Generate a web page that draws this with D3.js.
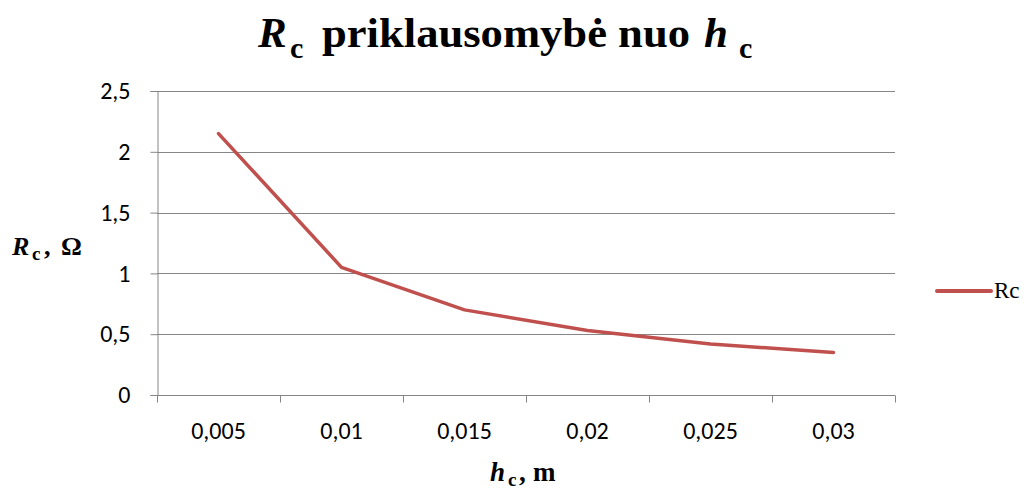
<!DOCTYPE html>
<html>
<head>
<meta charset="utf-8">
<script src="https://cdn.jsdelivr.net/npm/d3@7"></script>
<style>
  html, body { margin: 0; padding: 0; background: #fff; }
  svg { display: block; }
</style>
</head>
<body>
<svg id="chart" width="1031" height="493"></svg>
<script>
// Thickness h_c (m) and resistance R_c (Ohm)
const categories = ["0,005", "0,01", "0,015", "0,02", "0,025", "0,03"];
const rcValues = [2.15, 1.05, 0.70, 0.53, 0.42, 0.35];
const yTicks = [0, 0.5, 1, 1.5, 2, 2.5];
const yTickLabels = ["0", "0,5", "1", "1,5", "2", "2,5"];
const seriesName = "Rc";

const serifFont = '"Liberation Serif", monospace';
const tickFont = '"Carlito", monospace';

const svg = d3.select("#chart");
const margin = { left: 157, right: 136, top: 91, bottom: 98 };
const W = 1031, H = 493;
const x0 = margin.left, x1 = W - margin.right;
const y0 = H - margin.bottom, y1 = margin.top;

const x = d3.scaleBand().domain(categories).range([x0, x1]);
const y = d3.scaleLinear().domain([0, 2.5]).range([y0, y1]);

const gridColor = "#868686";
const lineColor = "#C0504D";

// horizontal gridlines
svg.append("g").selectAll("line")
  .data(yTicks.filter(d => d > 0))
  .join("line")
  .attr("x1", x0).attr("x2", x1)
  .attr("y1", d => Math.round(y(d)) + 0.5).attr("y2", d => Math.round(y(d)) + 0.5)
  .attr("stroke", gridColor).attr("stroke-width", 1);

// y axis
const yAxis = d3.axisLeft(y).tickValues(yTicks)
  .tickFormat((d, i) => yTickLabels[i]).tickSize(7).tickPadding(20);
const gy = svg.append("g").attr("transform", `translate(${x0 + 0.5},0)`).call(yAxis);
gy.attr("font-family", tickFont).attr("font-size", 24);
gy.select(".domain").attr("stroke", gridColor);
gy.selectAll(".tick line").attr("stroke", gridColor);
gy.selectAll(".tick text").attr("fill", "#000");

// x axis: ticks on category boundaries, labels centred in each band
const gx = svg.append("g").attr("transform", `translate(0,${Math.round(y0) + 0.5})`);
gx.append("line").attr("x1", x0).attr("x2", x1).attr("stroke", gridColor);
const bounds = categories.map(c => x(c)).concat([x1]);
gx.selectAll("line.tk").data(bounds).join("line").attr("class", "tk")
  .attr("x1", d => Math.round(d) + 0.5).attr("x2", d => Math.round(d) + 0.5)
  .attr("y1", 0).attr("y2", 7).attr("stroke", gridColor);
gx.selectAll("text").data(categories).join("text")
  .attr("x", d => x(d) + x.bandwidth() / 2)
  .attr("y", 43)
  .attr("text-anchor", "middle")
  .attr("font-family", tickFont)
  .attr("font-size", 24).attr("fill", "#000")
  .text(d => d);

// data line
const line = d3.line()
  .x((d, i) => x(categories[i]) + x.bandwidth() / 2)
  .y(d => y(d));
svg.append("path").datum(rcValues)
  .attr("d", line)
  .attr("fill", "none")
  .attr("stroke", lineColor)
  .attr("stroke-width", 3.5)
  .attr("stroke-linejoin", "round")
  .attr("stroke-linecap", "round");

// title: R_c priklausomybė nuo h_c
const title = svg.append("text").attr("font-family", serifFont)
  .attr("font-weight", "bold").attr("font-size", 43).attr("fill", "#000");
title.append("tspan").attr("x", 258).attr("y", 47).attr("font-style", "italic").text("R");
title.append("tspan").attr("x", 290).attr("y", 58).attr("font-size", 30).text("c");
title.append("tspan").attr("x", 322).attr("y", 47)
  .attr("textLength", 368).attr("lengthAdjust", "spacingAndGlyphs")
  .text("priklausomybė nuo");
title.append("tspan").attr("x", 704).attr("y", 47).attr("font-style", "italic").text("h");
title.append("tspan").attr("x", 739).attr("y", 58).attr("font-size", 30).text("c");

// y axis title: R_c, Ω
const yt = svg.append("text").attr("font-family", serifFont)
  .attr("font-weight", "bold").attr("font-size", 26).attr("fill", "#000");
yt.append("tspan").attr("x", 12).attr("y", 255).attr("font-style", "italic").text("R");
yt.append("tspan").attr("x", 32).attr("y", 260).attr("font-size", 19).text("c");
yt.append("tspan").attr("x", 44).attr("y", 255).text(",");
yt.append("tspan").attr("x", 61).attr("y", 255).text("Ω");

// x axis title: h_c, m
const xt = svg.append("text").attr("font-family", serifFont)
  .attr("font-weight", "bold").attr("font-size", 27).attr("fill", "#000");
xt.append("tspan").attr("x", 490).attr("y", 481).attr("font-style", "italic").text("h");
xt.append("tspan").attr("x", 508).attr("y", 486).attr("font-size", 19).text("c");
xt.append("tspan").attr("x", 519).attr("y", 481).text(",");
xt.append("tspan").attr("x", 533).attr("y", 481).text("m");

// legend
const lg = svg.append("g").attr("transform", "translate(937,291)");
lg.append("line").attr("x1", 0).attr("x2", 54).attr("y1", 0).attr("y2", 0)
  .attr("stroke", lineColor).attr("stroke-width", 4).attr("stroke-linecap", "round");
lg.append("text").attr("font-family", serifFont).attr("x", 57).attr("y", 7)
  .attr("font-size", 23).attr("fill", "#000")
  .text(seriesName);
</script>
</body>
</html>
